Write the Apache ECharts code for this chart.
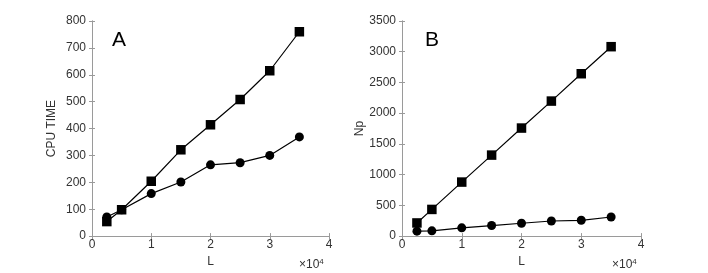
<!DOCTYPE html>
<html><head><meta charset="utf-8">
<script src="https://cdn.jsdelivr.net/npm/echarts@6/dist/echarts.min.js"></script>
<style>html,body{margin:0;padding:0;background:#fff}#c{width:708px;height:273px}</style>
</head><body><div id="c"></div>
<script>
const L = [2500, 5000, 10000, 15000, 20000, 25000, 30000, 35000];
const cpuSquares = [54, 98, 204, 321, 414, 508, 615, 760];
const cpuCircles = [71, 98, 158, 201, 265, 273, 300, 369];
const npSquares = [214, 434, 879, 1318, 1758, 2197, 2642, 3082];
const npCircles = [80, 86, 134, 172, 209, 246, 257, 311];
const xTicks = [0, 1, 2, 3, 4];

const FONT = 'Liberation Sans, Arial, Helvetica, sans-serif';
const AX = '#9a9a9a';
const pair = (xs, ys) => xs.map((x, i) => [x, ys[i]]);

function xAxes(gi) {
  return [
    { gridIndex: gi, type: 'value', min: 0, max: 40000, interval: 10000,
      name: 'L', nameLocation: 'middle', nameGap: 15,
      nameTextStyle: { fontFamily: FONT, fontSize: 12, color: '#333' },
      axisLine: { show: true, lineStyle: { color: AX } },
      axisTick: { show: true, inside: true, length: 3, lineStyle: { color: AX } },
      axisLabel: { fontFamily: FONT, fontSize: 12, color: '#333', margin: 3,
        formatter: v => String(xTicks[Math.round(v / 10000)]) },
      splitLine: { show: false } },
    { gridIndex: gi, type: 'value', position: 'top', min: 0, max: 40000, interval: 10000,
      axisLine: { show: true, lineStyle: { color: AX } },
      axisTick: { show: true, inside: true, length: 3, lineStyle: { color: AX } },
      axisLabel: { show: false }, splitLine: { show: false } }
  ];
}
function yAxes(gi, max, interval, name, gap) {
  return [
    { gridIndex: gi, type: 'value', min: 0, max: max, interval: interval,
      name: name, nameLocation: 'middle', nameGap: gap, nameRotate: 90,
      nameTextStyle: { fontFamily: FONT, fontSize: 12, color: '#333' },
      axisLine: { show: true, lineStyle: { color: AX } },
      axisTick: { show: true, inside: true, length: 3, lineStyle: { color: AX } },
      axisLabel: { fontFamily: FONT, fontSize: 12, color: '#333', margin: 6,
        formatter: v => String(v) },
      splitLine: { show: false } },
    { gridIndex: gi, type: 'value', position: 'right', min: 0, max: max, interval: interval,
      axisLine: { show: true, lineStyle: { color: AX } },
      axisTick: { show: true, inside: true, length: 3, lineStyle: { color: AX } },
      axisLabel: { show: false }, splitLine: { show: false } }
  ];
}
function ser(xi, yi, data, sym, size) {
  return { type: 'line', xAxisIndex: xi, yAxisIndex: yi, data: data,
    symbol: sym, symbolSize: size, showSymbol: true,
    lineStyle: { color: '#000', width: 1.2 }, itemStyle: { color: '#000' },
    animation: false, z: 3 };
}

const chart = echarts.init(document.getElementById('c'), null, { renderer: 'canvas' });
chart.setOption({
  animation: false,
  grid: [
    { left: 92, right: 379, top: 21, bottom: 35 },
    { left: 402, right: 67, top: 21, bottom: 35 }
  ],
  xAxis: [...xAxes(0), ...xAxes(1)],
  yAxis: [...yAxes(0, 800, 100, 'CPU TIME', 34), ...yAxes(1, 3500, 500, 'Np', 28)],
  series: [
    ser(0, 0, pair(L, cpuSquares), 'rect', 9.5),
    ser(0, 0, pair(L, cpuCircles), 'circle', 9),
    ser(2, 2, pair(L, npSquares), 'rect', 9.5),
    ser(2, 2, pair(L, npCircles), 'circle', 9)
  ],
  graphic: [
    { type: 'text', left: 112, top: 30, style: { text: 'A', font: '21px ' + FONT, fill: '#000' } },
    { type: 'text', left: 425, top: 30, style: { text: 'B', font: '21px ' + FONT, fill: '#000' } },
    { type: 'text', left: 299, top: 258, style: { text: '×10{s|4}', font: '12px ' + FONT, fill: '#333',
        rich: { s: { fontSize: 8, verticalAlign: 'top', padding: [0, 0, 6, 0], fontFamily: FONT } } } },
    { type: 'text', left: 612, top: 258, style: { text: '×10{s|4}', font: '12px ' + FONT, fill: '#333',
        rich: { s: { fontSize: 8, verticalAlign: 'top', padding: [0, 0, 6, 0], fontFamily: FONT } } } }
  ]
});
</script></body></html>
